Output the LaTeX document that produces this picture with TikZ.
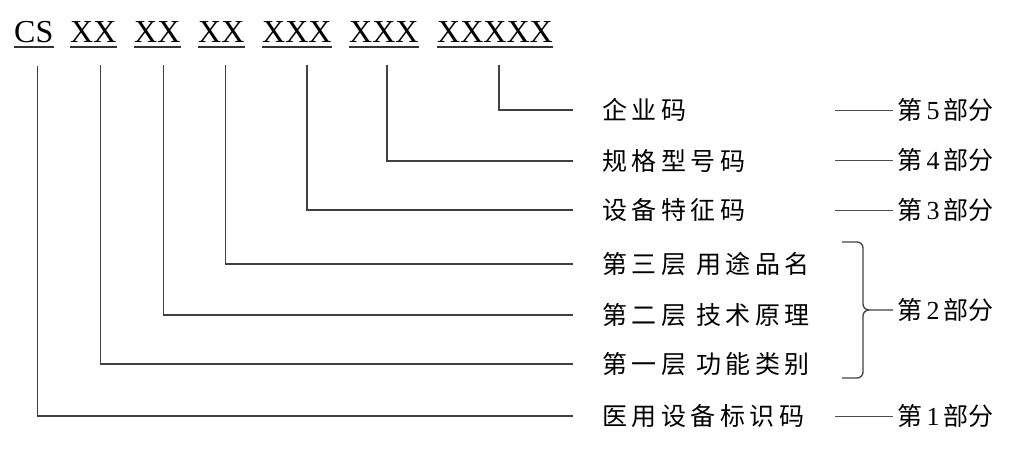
\documentclass[tikz,border=0pt]{standalone}
\usepackage{fontspec}
\setmainfont{Liberation Serif}
\newfontfamily\cjk[LetterSpace=18]{Noto Sans CJK SC}
\newfontfamily\cjkpart{Noto Sans CJK SC}
\usepackage{tikz}
\usetikzlibrary{positioning}
\newcommand\codefont{\fontsize{32}{32}\selectfont}
\newcommand\itemfont{\cjk\fontsize{25}{25}\selectfont}
\newcommand\partfont{\cjkpart\fontsize{25}{25}\selectfont}
\newcommand\partno[1]{{\rmfamily\fontsize{26}{26}\selectfont\,#1\,}}
\tikzset{
  code/.style = {anchor=base west, inner sep=0pt, font=\codefont},
  item/.style = {anchor=west, inner sep=0pt, font=\itemfont},
  part/.style = {anchor=west, inner sep=0pt, font=\partfont},
  link/.style = {draw=black!75, line width=1.3pt},
  uline/.style = {draw=black!80, line width=1.8pt},
  partline/.style = {draw=black!70, line width=1pt}
}
\begin{document}
\begin{tikzpicture}[x=1pt, y=-1pt]
\useasboundingbox (0,0) rectangle (1015,461);
% code parts
\node [code] (c1) at (14,42) {CS};
\node [code] (c2) at (70,42) {XX};
\node [code] (c3) at (134,42) {XX};
\node [code] (c4) at (198,42) {XX};
\node [code] (c5) at (262,42) {XXX};
\node [code] (c6) at (349,42) {XXX};
\node [code] (c7) at (437,42) {XXXXX};
\foreach \c in {c1,c2,c3,c4,c5,c6,c7}
  \draw [uline] ([yshift=-5pt]\c.base west) -- ([yshift=-5pt]\c.base east);
% meanings
\node [item] (l1) at (602,110) {企业码};
\node [item] (l2) at (602,161) {规格型号码};
\node [item] (l3) at (602,210) {设备特征码};
\node [item] (l4) at (602,264) {第三层 用途品名};
\node [item] (l5) at (602,315) {第二层 技术原理};
\node [item] (l6) at (602,364) {第一层 功能类别};
\node [item] (l7) at (602,416) {医用设备标识码};
\foreach \c/\dx/\r in {c1/4/l7, c2/7/l6, c3/6/l5, c4/4/l4, c5/10/l3, c6/3/l2, c7/4/l1}
  \draw [link] ([xshift=\dx pt, yshift=-23pt]\c.south) |- ([xshift=-29pt]\r.west);
% parts
\node [part] (p5) at (897,110) {第\partno{5}部分};
\node [part] (p4) at (897,160) {第\partno{4}部分};
\node [part] (p3) at (897,210) {第\partno{3}部分};
\node [part] (p2) at (897,310) {第\partno{2}部分};
\node [part] (p1) at (897,416) {第\partno{1}部分};
\foreach \p in {p5,p4,p3,p1}
  \draw [partline] ([xshift=-4pt]\p.west) -- ++(-58,0);
\coordinate (bt) at (842,242);
\coordinate (bb) at (842,378);
\coordinate (bm) at (863,310);
\draw [link, rounded corners=6pt] (bt) -| (bm) -- ([xshift=-4pt]p2.west);
\draw [link, rounded corners=6pt] (bb) -| (bm) -- ++(6,0);
\end{tikzpicture}
\end{document}
